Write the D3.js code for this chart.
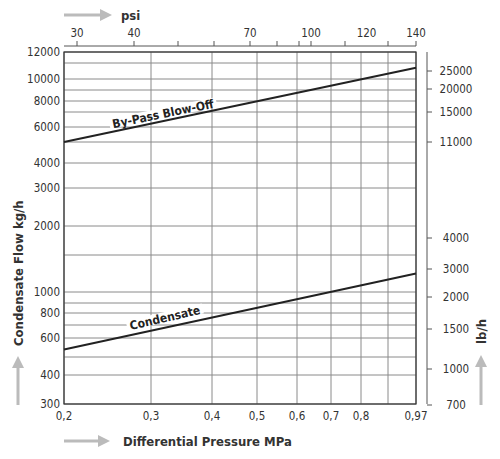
<!DOCTYPE html>
<html><head><meta charset="utf-8">
<script src="https://cdn.jsdelivr.net/npm/d3@7"></script>
<style>body{margin:0;background:#fff}svg{font-family:"DejaVu Sans Condensed","DejaVu Sans",sans-serif}</style>
</head><body><svg id="c" width="500" height="459"></svg>
<script>
// data
const mpaTicks = [0.2,0.3,0.4,0.5,0.6,0.7,0.8,0.97];
const mpaGrid = [0.2,0.3,0.4,0.5,0.6,0.7,0.8,0.88,0.97];
const psiTicks = [30,40,70,100,120,140];
const psiMinor = [30,40,50,60,70,80,90,100,110,130,140];
const kgTicks = [300,400,600,800,1000,2000,3000,4000,6000,8000,10000,12000];
const kgGrid = [300,400,500,600,700,800,900,1000,1500,2000,3000,4000,5000,6000,7000,8000,9000,10000,11000,12000];
const lbTicks = [700,1000,1500,2000,3000,4000,11000,15000,20000,25000];
const pressure = [0.2,0.97];
const bypass = [5000,10700];
const condensate = [540,1250];

const svg=d3.select("#c");
const x=d3.scaleLinear().domain(mpaGrid).range([64,151,212,257,297,331,361,388,416]);
const xp=d3.scaleLinear().domain(psiMinor).range([77,134,178,214,250,277,299,311,345,388,416]);
const y=d3.scaleLinear().domain(kgGrid).range([404,375,357,338,325,313,303,292,255,226,188,163,142,127,112,101,90,79,63,52]);
const yr=d3.scaleLinear().domain(lbTicks).range([405,369,329,297,269,238,142,112,89,71]);
const g=svg.append("g");
g.selectAll(".h").data(kgGrid).join("line").attr("x1",64).attr("x2",416).attr("y1",d=>y(d)).attr("y2",d=>y(d)).attr("stroke","#8a8a8a");
g.selectAll(".v").data(mpaGrid).join("line").attr("y1",52).attr("y2",404).attr("x1",d=>x(d)).attr("x2",d=>x(d)).attr("stroke","#8a8a8a");
g.append("rect").attr("x",64).attr("y",52).attr("width",352).attr("height",352).attr("fill","none").attr("stroke","#333").attr("stroke-width",1.2);
const T={"font-size":"11.5px","fill":"#333"};
function txt(sel){for(const k in T)sel.style(k,T[k]);return sel;}
txt(g.selectAll(".kl").data(kgTicks).join("text").attr("x",60).attr("y",d=>y(d)+4).attr("text-anchor","end").text(d=>d));
txt(g.selectAll(".ml").data(mpaTicks).join("text").attr("x",d=>x(d)).attr("y",420).attr("text-anchor","middle").text(d=>String(d).replace(".",",")));
g.append("line").attr("x1",64).attr("x2",416).attr("y1",46).attr("y2",46).attr("stroke","#555");
g.selectAll(".pt").data(psiMinor).join("line").attr("x1",d=>xp(d)).attr("x2",d=>xp(d)).attr("y1",41).attr("y2",46).attr("stroke","#555");
txt(g.selectAll(".pl").data(psiTicks).join("text").attr("x",d=>xp(d)).attr("y",37).attr("text-anchor","middle").text(d=>d));
g.append("line").attr("x1",427).attr("x2",427).attr("y1",52).attr("y2",404).attr("stroke","#555");
g.selectAll(".rt").data(lbTicks).join("line").attr("x1",427).attr("x2",432).attr("y1",d=>yr(d)).attr("y2",d=>yr(d)).attr("stroke","#555");
txt(g.selectAll(".rl").data(lbTicks).join("text").attr("x",456).attr("y",d=>yr(d)+4).attr("text-anchor","middle").text(d=>d));
const line=d3.line().x((d,i)=>x(pressure[i])).y(d=>y(d));
[bypass,condensate].forEach(s=>g.append("path").attr("d",line(s)).attr("fill","none").attr("stroke","#222").attr("stroke-width",2));
function lab(t,cx,cy,ang){const gg=g.append("g").attr("transform",`translate(${cx},${cy}) rotate(${ang})`);
 const te=gg.append("text").attr("text-anchor","middle").attr("y",4).style("font-size","12px").style("font-weight","bold").style("fill","#222").text(t);
 const b=te.node().getBBox();gg.insert("rect","text").attr("x",b.x-3).attr("y",b.y+1).attr("width",b.width+6).attr("height",b.height-4).attr("fill","#fff");}
lab("By-Pass Blow-Off",163,114,-11.5);
lab("Condensate",165,318,-13);
function arrow(x1,y1,x2,y2){const a=Math.atan2(y2-y1,x2-x1),L=12;
 g.append("line").attr("x1",x1).attr("y1",y1).attr("x2",x2-L*Math.cos(a)).attr("y2",y2-L*Math.sin(a)).attr("stroke","#bbb").attr("stroke-width",3);
 const p=[[x2,y2],[x2-L*Math.cos(a)+6*Math.sin(a),y2-L*Math.sin(a)-6*Math.cos(a)],[x2-L*Math.cos(a)-6*Math.sin(a),y2-L*Math.sin(a)+6*Math.cos(a)]];
 g.append("path").attr("d","M"+p.join("L")+"Z").attr("fill","#bbb");}
arrow(64,15,112,15);arrow(64,441,110,441);arrow(18,405,18,356);arrow(481,405,481,355);
g.append("text").attr("x",121).attr("y",20).style("font-size","13px").style("font-weight","bold").style("fill","#333").text("psi");
g.append("text").attr("x",123).attr("y",446).style("font-size","13px").style("font-weight","bold").style("fill","#333").text("Differential Pressure MPa");
g.append("text").attr("transform","translate(23,346) rotate(-90)").style("font-size","13px").style("font-weight","bold").style("fill","#333").text("Condensate Flow kg/h");
g.append("text").attr("transform","translate(486,344) rotate(-90)").style("font-size","13px").style("font-weight","bold").style("fill","#333").text("lb/h");
</script></body></html>
